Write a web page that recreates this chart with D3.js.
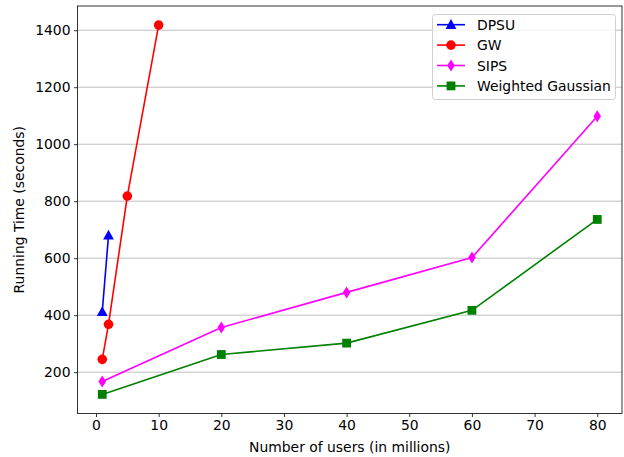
<!DOCTYPE html>
<html><head><meta charset="utf-8">
<script src="https://cdn.jsdelivr.net/npm/d3@7"></script>
<style>body{margin:0;background:#fff}svg{display:block}text{font-family:"DejaVu Sans",sans-serif}</style>
</head><body>
<svg id="c" width="624" height="457"></svg>
<script>
const seriesNames = ["DPSU", "GW", "SIPS", "Weighted Gaussian"];
const seriesColors = ["#0000ff", "#ff0000", "#ff00ff", "#008000"];
const seriesMarkers = ["triangle", "circle", "diamond", "square"];
const dpsuX = [1, 2];
const dpsuY = [412, 680];
const gwX = [1, 2, 5, 10];
const gwY = [245, 368, 818, 1418];
const sipsX = [1, 20, 40, 60, 80];
const sipsY = [167, 357, 480, 602, 1098];
const wgX = [1, 20, 40, 60, 80];
const wgY = [122, 262, 302, 417, 736];
const xTicks = [0, 10, 20, 30, 40, 50, 60, 70, 80];
const yTicks = [200, 400, 600, 800, 1000, 1200, 1400];

const seriesX = [dpsuX, gwX, sipsX, wgX];
const seriesY = [dpsuY, gwY, sipsY, wgY];

const svg = d3.select("#c");
const L = 77.5, R = 622, T = 6, B = 413.5;
const FS = 13.9;
const x = d3.scaleLinear().domain([-2.95, 83.95]).range([L, R]);
const y = d3.scaleLinear().domain([55, 1485]).range([B, T]);

// grid
svg.append("g").selectAll("line").data(yTicks).join("line")
  .attr("x1", L).attr("x2", R).attr("y1", d => y(d)).attr("y2", d => y(d))
  .attr("stroke", "#b0b0b0").attr("stroke-width", 0.8);

// axes
const xa = svg.append("g").attr("transform", `translate(0,${B})`)
  .call(d3.axisBottom(x).tickValues(xTicks).tickSize(3.5).tickPadding(3.5));
const ya = svg.append("g").attr("transform", `translate(${L},0)`)
  .call(d3.axisLeft(y).tickValues(yTicks).tickSize(3.5).tickPadding(3.5).tickFormat(d3.format("d")));
[xa, ya].forEach(a => {
  a.select(".domain").remove();
  a.selectAll("text").attr("font-size", FS).attr("fill", "#000").style("font-family", "DejaVu Sans");
  a.selectAll("line").attr("stroke", "#000").attr("stroke-width", 0.8);
});
svg.append("rect").attr("x", L).attr("y", T).attr("width", R - L).attr("height", B - T)
  .attr("fill", "none").attr("stroke", "#000").attr("stroke-width", 0.8);

function marker(g, type, cx, cy, color) {
  if (type === "circle") g.append("circle").attr("cx", cx).attr("cy", cy).attr("r", 4.8).attr("fill", color);
  else if (type === "square") g.append("rect").attr("x", cx - 4.4).attr("y", cy - 4.4).attr("width", 8.8).attr("height", 8.8).attr("fill", color);
  else if (type === "triangle") g.append("path").attr("d", `M${cx},${cy - 5.6}L${cx + 5.4},${cy + 4.2}L${cx - 5.4},${cy + 4.2}Z`).attr("fill", color);
  else if (type === "diamond") g.append("path").attr("d", `M${cx},${cy - 6}L${cx + 3.8},${cy}L${cx},${cy + 6}L${cx - 3.8},${cy}Z`).attr("fill", color);
}

const line = d3.line().x(d => x(d[0])).y(d => y(d[1]));
seriesNames.forEach((n, i) => {
  const pts = seriesX[i].map((v, j) => [v, seriesY[i][j]]);
  const g = svg.append("g");
  g.append("path").attr("d", line(pts)).attr("fill", "none").attr("stroke", seriesColors[i]).attr("stroke-width", 1.6);
  pts.forEach(p => marker(g, seriesMarkers[i], x(p[0]), y(p[1]), seriesColors[i]));
});

// legend
const lg = svg.append("g");
lg.append("rect").attr("x", 432.5).attr("y", 14.5).attr("width", 183).attr("height", 85).attr("rx", 3)
  .attr("fill", "#fff").attr("fill-opacity", 0.8).attr("stroke", "#d0d0d0").attr("stroke-width", 1);
seriesNames.forEach((n, i) => {
  const yy = 24.7 + i * 20.4;
  lg.append("line").attr("x1", 437).attr("x2", 465).attr("y1", yy).attr("y2", yy).attr("stroke", seriesColors[i]).attr("stroke-width", 1.6);
  marker(lg, seriesMarkers[i], 451, yy, seriesColors[i]);
  lg.append("text").attr("x", 477).attr("y", yy + 5).attr("font-size", FS).text(n);
});

// labels
svg.append("text").attr("x", (L + R) / 2).attr("y", 452).attr("text-anchor", "middle").attr("font-size", FS).text("Number of users (in millions)");
svg.append("text").attr("transform", `translate(24,${(T + B) / 2}) rotate(-90)`).attr("text-anchor", "middle").attr("font-size", FS).text("Running Time (seconds)");
</script>
</body></html>
